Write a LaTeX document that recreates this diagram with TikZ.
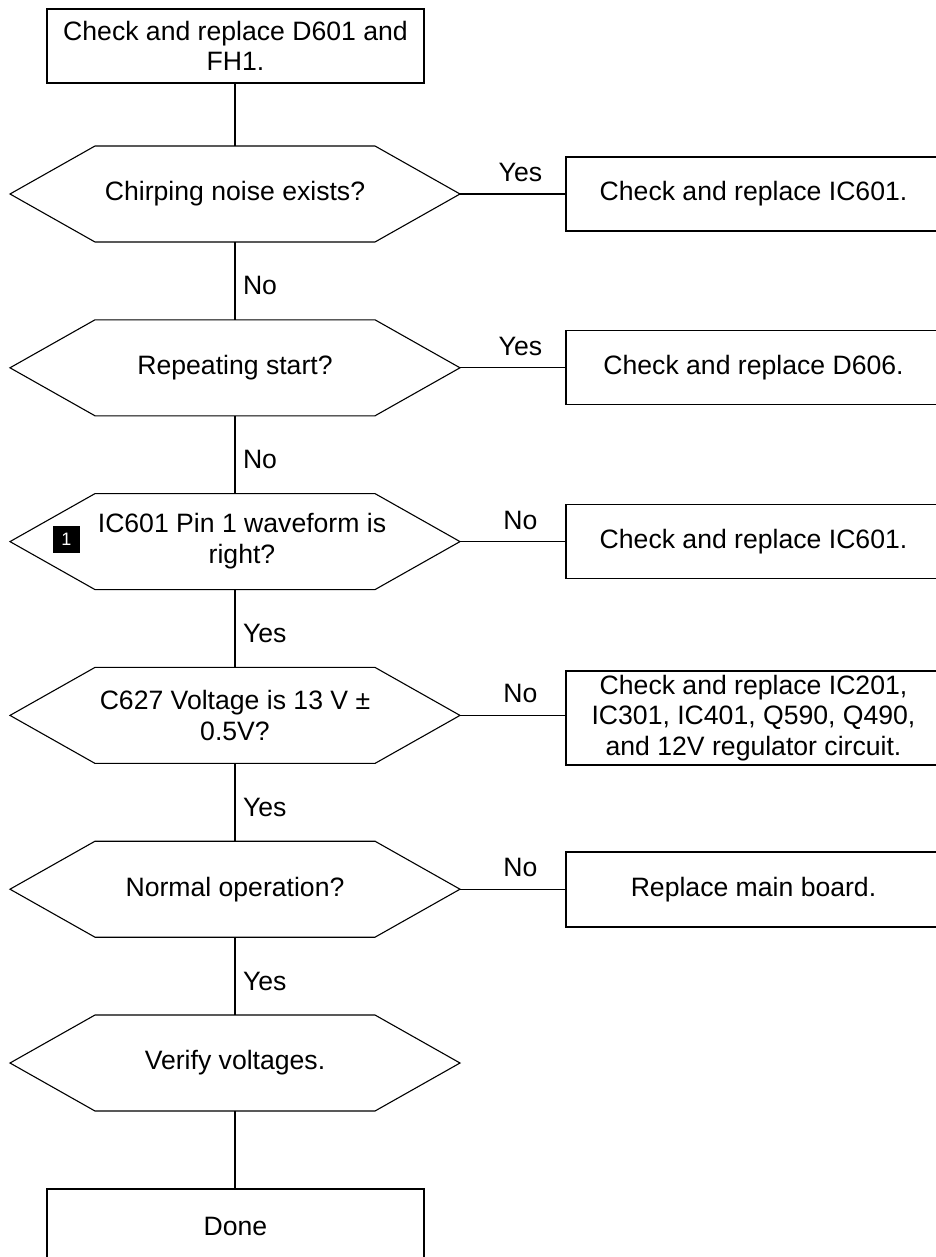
\documentclass[tikz,border=0pt]{standalone}
\usepackage{fontspec}
\setmainfont{Liberation Sans}
\newcommand\fsz{\fontsize{26.6}{30.5}\selectfont}
\begin{document}
\begin{tikzpicture}[x=1pt,y=-1pt,
  ln/.style={line width=1.1pt, draw=black},
  box/.style={draw=black, line width=1.1pt, inner sep=0pt, outer sep=0pt, align=center, font=\fsz},
  hexa/.style={inner sep=0pt, outer sep=0pt, minimum width=450pt, minimum height=96pt, align=center, font=\fsz},
  lab/.style={font=\fsz, inner sep=0pt, outer sep=0pt},
  badge/.style={fill=black, text=white, minimum size=27pt, inner sep=0pt, font=\fontsize{18}{18}\selectfont}]
\clip (0,0) rectangle (936,1257);
\fill[white] (0,0) rectangle (936,1257);
% main column
\node[box, minimum width=377pt, minimum height=74pt] (top) at (235.5,46) {Check and replace D601 and\\FH1.};
\node[hexa] (h1) at (235,194) {Chirping noise exists?};
\node[hexa] (h2) at (235,367.8) {Repeating start?};
\node[hexa] (h3) at (235,541.6) {};
\node[lab, align=center] (t3) at (242,541) {IC601 Pin 1 waveform is\\right?};
\node[badge] (b1) at (66.5,539.5) {1};
\node[hexa] (h4) at (235,715.4) {C627 Voltage is 13 V ±\\0.5V?};
\node[hexa] (h5) at (235,889.2) {Normal operation?};
\node[hexa] (h6) at (235,1063) {Verify voltages.};
\node[box, minimum width=377pt, minimum height=74pt] (done) at (235.5,1226) {Done};
\foreach \i in {1,...,6}
  \draw[ln] (h\i.west) -- ([xshift=85pt]h\i.north west) -- ([xshift=-85pt]h\i.north east) -- (h\i.east) -- ([xshift=-85pt]h\i.south east) -- ([xshift=85pt]h\i.south west) -- cycle;
% right column
\node[box, anchor=west, minimum width=375pt, minimum height=74pt] (r1) at (566,194) {Check and replace IC601.};
\node[box, anchor=west, minimum width=375pt, minimum height=74pt] (r2) at (566,367.8) {Check and replace D606.};
\node[box, anchor=west, minimum width=375pt, minimum height=74pt] (r3) at (566,541.6) {Check and replace IC601.};
\node[box, anchor=west, minimum width=375pt, minimum height=94pt] (r4) at (566,718) {Check and replace IC201,\\IC301, IC401, Q590, Q490,\\and 12V regulator circuit.};
\node[box, anchor=west, minimum width=375pt, minimum height=75pt] (r5) at (566,889.5) {Replace main board.};
% horizontal connectors
\draw[ln] (h1.east) -- node[lab, pos=0.57, anchor=base, yshift=12.5pt] {Yes} (h1.east -| r1.west);
\draw[ln] (h2.east) -- node[lab, pos=0.57, anchor=base, yshift=12.5pt] {Yes} (h2.east -| r2.west);
\draw[ln] (h3.east) -- node[lab, pos=0.57, anchor=base, yshift=12.5pt] {No} (h3.east -| r3.west);
\draw[ln] (h4.east) -- node[lab, pos=0.57, anchor=base, yshift=12.5pt] {No} (h4.east -| r4.west);
\draw[ln] (h5.east) -- node[lab, pos=0.57, anchor=base, yshift=12.5pt] {No} (h5.east -| r5.west);
% vertical connectors
\draw[ln] (top.south -| h1.north) -- (h1.north);
\draw[ln] (h1.south) -- node[lab, anchor=base west, xshift=8pt, yshift=-14pt] {No} (h2.north);
\draw[ln] (h2.south) -- node[lab, anchor=base west, xshift=8pt, yshift=-14pt] {No} (h3.north);
\draw[ln] (h3.south) -- node[lab, anchor=base west, xshift=8pt, yshift=-14pt] {Yes} (h4.north);
\draw[ln] (h4.south) -- node[lab, anchor=base west, xshift=8pt, yshift=-14pt] {Yes} (h5.north);
\draw[ln] (h5.south) -- node[lab, anchor=base west, xshift=8pt, yshift=-14pt] {Yes} (h6.north);
\draw[ln] (h6.south) -- (h6.south |- done.north);
\end{tikzpicture}
\end{document}
